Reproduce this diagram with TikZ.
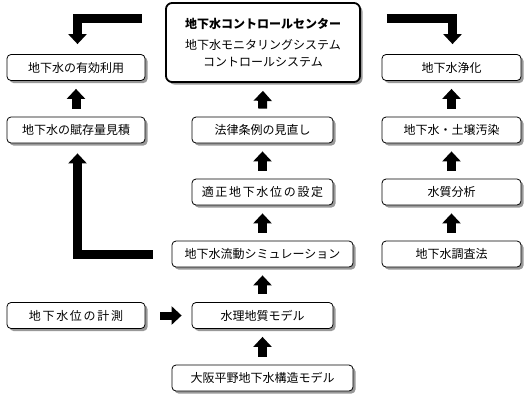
\documentclass[tikz,border=0pt]{standalone}
\usepackage{fontspec}
\setmainfont{Noto Sans CJK JP}
\usetikzlibrary{arrows.meta,shadows}
\begin{document}
\begin{tikzpicture}[x=1pt,y=-1pt,
  box/.style={draw=black,line width=0.8pt,fill=white,rounded corners=4pt,
    minimum height=26pt,inner sep=0pt,font=\fontsize{12}{14}\selectfont,
    drop shadow={shadow xshift=2.5pt,shadow yshift=-2.5pt,fill=black!40,opacity=1}},
  nbox/.style={box,minimum width=138pt},
  wbox/.style={box,minimum width=181pt},
  bigbox/.style={box,line width=1.8pt,rounded corners=6pt,minimum width=194pt,minimum height=79pt,align=center},
  fat/.style={line width=9pt,line join=miter,-{Triangle[width=18pt,length=10pt]}},
  spaced/.style={font=\fontsize{12}{14}\selectfont\addfontfeatures{LetterSpace=14}}
]
\useasboundingbox (0,0) rectangle (530,400);
\node[bigbox] (top) at (263,42.5) {{\bfseries 地下水コントロールセンター}\\[7pt]地下水モニタリングシステム\\[3pt]コントロールシステム};
\node[nbox] (eff) at (76,67.5) {地下水の有効利用};
\node[nbox] (fuz) at (76,130) {地下水の賦存量見積};
\node[nbox,spaced] (kei) at (76,315.5) {地下水位の計測};
\node[nbox,minimum width=141pt] (hou) at (262.5,130) {法律条例の見直し};
\node[nbox,minimum width=141pt,spaced] (tek) at (262.5,192) {適正地下水位の設定};
\node[wbox] (sim) at (262.5,254) {地下水流動シミュレーション};
\node[nbox,minimum width=141pt] (sui) at (262.5,315.5) {水理地質モデル};
\node[wbox] (osa) at (262.5,378) {大阪平野地下水構造モデル};
\node[nbox,minimum width=139pt] (jou) at (451.5,67.5) {地下水浄化};
\node[nbox,minimum width=139pt] (ose) at (451.5,130) {地下水・土壌汚染};
\node[nbox,minimum width=139pt] (shi) at (451.5,192) {水質分析};
\node[nbox,minimum width=139pt] (cho) at (451.5,254) {地下水調査法};
% vertical fat arrows
\foreach \a/\b in {fuz/eff,hou/top,tek/hou,sim/tek,sui/sim,osa/sui,ose/jou,shi/ose,cho/shi}
  \draw[fat] ([yshift=8pt]\a.north) -- ([yshift=-8pt]\b.south);
% L-shaped arrows
\coordinate (tl) at ([xshift=-23pt,yshift=-16.5pt]top.north west);
\coordinate (tr) at ([xshift=26pt,yshift=-16.5pt]top.north east);
\draw[fat] (tl) -| ([xshift=1.5pt,yshift=10pt]eff.north);
\draw[fat] (tr) -| ([xshift=1pt,yshift=10pt]jou.north);
\coordinate (sl) at ([xshift=-19pt]sim.west);
\draw[fat] (sl) -| ([xshift=1.5pt,yshift=-10pt]fuz.south);
\draw[fat,line width=8pt] ([xshift=15pt]kei.east) -- ([xshift=-10pt]sui.west);
\end{tikzpicture}
\end{document}
